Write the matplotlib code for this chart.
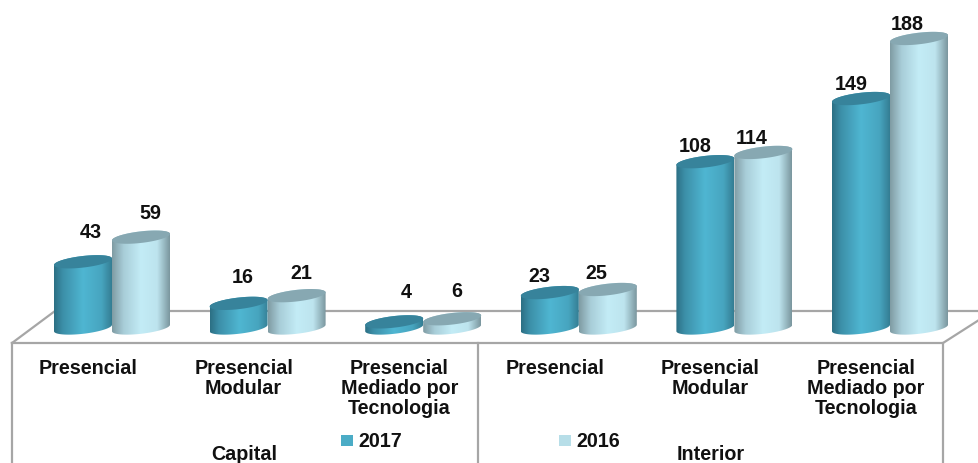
import numpy as np
import matplotlib
matplotlib.use("Agg")
import matplotlib.pyplot as plt
from matplotlib.colors import LinearSegmentedColormap
from matplotlib.patches import Polygon, Rectangle
from matplotlib.transforms import Affine2D

categories = ["Presencial", "Presencial\nModular", "Presencial\nMediado por\nTecnologia",
              "Presencial", "Presencial\nModular", "Presencial\nMediado por\nTecnologia"]
groups = ["Capital", "Interior"]
series_names = ["2017", "2016"]
values_2017 = [43, 16, 4, 23, 108, 149]
values_2016 = [59, 21, 6, 25, 114, 188]

# label nudges in pixels (x right, y up), as placed in the original
offsets_2017 = [(8, 30), (4, 27), (12, 30), (-10, 17), (-10, 16), (-10, 15)]
offsets_2016 = [(9, 25), (5, 23), (5, 28), (-11, 17), (-12, 15), (-12, 15)]

plt.rcParams["font.family"] = ["Liberation Sans", "DejaVu Sans"]
W, H = 979, 464
fig = plt.figure(figsize=(W / 100, H / 100), dpi=100, facecolor="white")
ax = fig.add_axes([0, 0, 1, 1])

# scales: x category 0 centred at px 112, step 155.6 px; y zero at px 329, 1.54 px per unit
PX_X, PX_Y = 155.6, 1.54
x0_px, y0_px = 112.0, 329.0
ax.set_xlim(-x0_px / PX_X, (W - x0_px) / PX_X)
ax.set_ylim(-(H - y0_px) / PX_Y, y0_px / PX_Y)
ax.axis("off")

px = Affine2D().scale(1, -1).translate(0, H)  # reference pixel coords -> display

# floor frame
line_kw = dict(color="#a6a6a6", lw=1.6, transform=px, zorder=1, solid_capstyle="projecting")
ax.plot([12, 55, 979], [344, 312, 312], **line_kw)
ax.plot([12, 943, 979], [344, 344, 321], **line_kw)
for xv in (12, 478, 943):
    ax.plot([xv, xv], [344, 464], **line_kw)

cmap_2017 = LinearSegmentedColormap.from_list("c17", [(0, "#2c6f84"), (.15, "#3c8fa8"), (.5, "#4fb6d2"),
                                                     (.82, "#47a5bf"), (1, "#347d93")])
cmap_2016 = LinearSegmentedColormap.from_list("c16", [(0, "#7f9ba3"), (.2, "#a8cdd8"), (.5, "#c3ecf6"),
                                                     (.78, "#bde4ee"), (1, "#7a969e")])
top_2017, top_2016 = "#37839b", "#87a8b2"

bar_w = 58 / PX_X
rx = bar_w / 2
ry = 5.8 / PY if False else 5.8 / PX_Y
shear = (6.5 / PX_Y) / bar_w


def ell(cx, cy, t):
    dx = rx * np.cos(t)
    return cx + dx, cy + ry * np.sin(t) + shear * dx


def cylinder(cx, value, cmap, top, z):
    t_bot = np.linspace(np.pi, 2 * np.pi, 60)
    t_top = np.linspace(0, np.pi, 60)
    xb, yb = ell(cx, 0, t_bot)
    xt, yt = ell(cx, value, t_top)
    outline = np.column_stack([np.r_[xb, xt], np.r_[yb, yt]])
    grad = np.linspace(0, 1, 256).reshape(1, -1)
    im = ax.imshow(grad, cmap=cmap, aspect="auto", zorder=z, interpolation="bilinear",
                   extent=[cx - rx, cx + rx, -ry * 2, value + ry * 3])
    im.set_clip_path(Polygon(outline, closed=True, transform=ax.transData))
    t = np.linspace(0, 2 * np.pi, 120)
    xe, ye = ell(cx, value, t)
    ax.add_patch(Polygon(np.column_stack([xe, ye]), closed=True, fc=top, ec="none", zorder=z + 0.1))


positions = np.arange(len(categories))
for i, c in enumerate(positions):
    cylinder(c - rx, values_2017[i], cmap_2017, top_2017, 3 + i)
    cylinder(c + rx, values_2016[i], cmap_2016, top_2016, 3.5 + i)
    ax.annotate(str(values_2017[i]), (c - rx, values_2017[i]), xytext=offsets_2017[i],
                textcoords="offset pixels", ha="center", va="center",
                fontsize=14.2, fontweight="bold", color="#111111", zorder=20)
    ax.annotate(str(values_2016[i]), (c + rx, values_2016[i]), xytext=offsets_2016[i],
                textcoords="offset pixels", ha="center", va="center",
                fontsize=14.2, fontweight="bold", color="#111111", zorder=20)
    ax.text(88 + 155.6 * i, 359, categories[i], transform=px, ha="center", va="top",
            fontsize=14.2, fontweight="bold", color="#111111", linespacing=1.07, zorder=20)

for name, xc in zip(groups, (244, 711)):
    ax.text(xc, 455, name, transform=px, ha="center", va="center",
            fontsize=14.2, fontweight="bold", color="#111111", zorder=20)

# legend
for name, sx, col in zip(series_names, (341, 559), ("#4bacc6", "#b7dee8")):
    ax.add_patch(Rectangle((sx, 436), 12, 11, transform=px, fc=col, ec="none", zorder=20))
    ax.text(sx + 17, 441.5, name, transform=px, ha="left", va="center",
            fontsize=14.2, fontweight="bold", color="#111111", zorder=20)

ax.set_xlim(-x0_px / PX_X, (W - x0_px) / PX_X)
ax.set_ylim(-(H - y0_px) / PX_Y, y0_px / PX_Y)
fig.savefig("out.png", dpi=100, facecolor="white")
